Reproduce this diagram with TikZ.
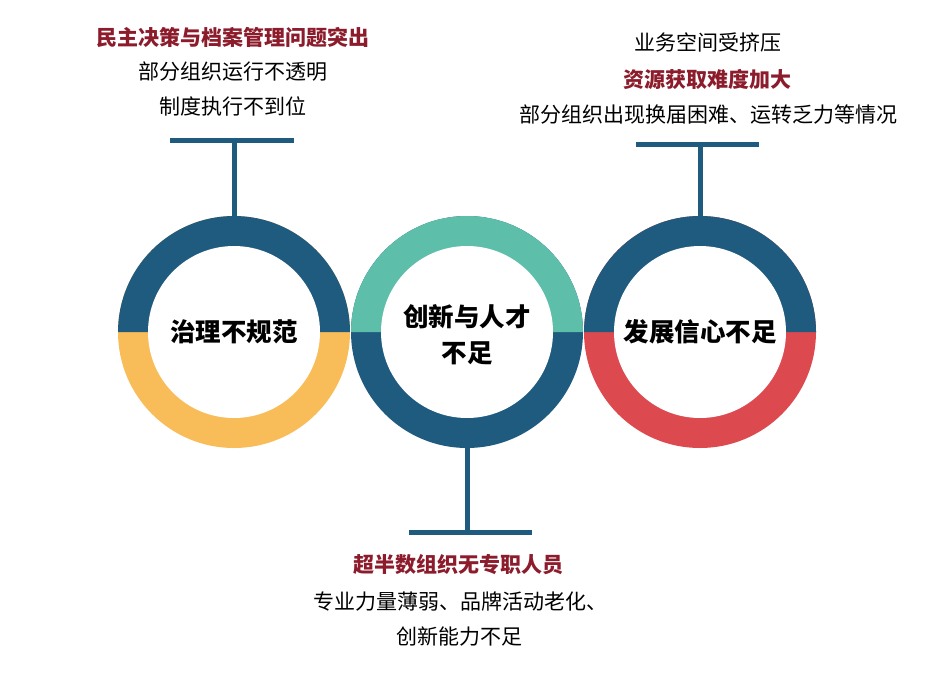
\documentclass[tikz,border=0pt]{standalone}
\usepackage{fontspec}
\setmainfont{Noto Sans CJK SC}
\usepackage{tikz}
\usetikzlibrary{positioning,calc}
\usepackage{xcolor}
\definecolor{ringblue}{HTML}{1F5B7F}
\definecolor{ringyellow}{HTML}{F8BD59}
\definecolor{ringteal}{HTML}{5DBEA9}
\definecolor{ringred}{HTML}{DC4A4F}
\definecolor{headred}{HTML}{8C1C2C}

\tikzset{
  ringlabel/.style={circle, minimum size=232pt, inner sep=0pt, align=center,
    font=\bfseries\fontsize{25.5}{36}\selectfont},
  head/.style={text=headred, font=\bfseries\fontsize{21}{24}\selectfont, inner sep=0pt},
  line/.style={text=black, font=\fontsize{21}{24}\selectfont, inner sep=0pt},
  stem/.style={draw=ringblue, line width=5pt}
}

\begin{document}
\begin{tikzpicture}[x=1pt,y=1pt]
  \useasboundingbox (0,0) rectangle (934,-680);
  % rings
  \fill[ringyellow] (234,-332) circle (116);
  \fill[ringblue] (234,-332) ++(116,0) arc[start angle=0,end angle=180,radius=116] -- cycle;
  \fill[white] (234,-332) circle (86);
  \fill[ringblue] (467,-332) circle (116);
  \fill[ringteal] (467,-332) ++(116,0) arc[start angle=0,end angle=180,radius=116] -- cycle;
  \fill[white] (467,-332) circle (86);
  \fill[ringred] (700,-332) circle (116);
  \fill[ringblue] (700,-332) ++(116,0) arc[start angle=0,end angle=180,radius=116] -- cycle;
  \fill[white] (700,-332) circle (86);
  \node[ringlabel] (gov) at (234,-332) {治理不规范};
  \node[ringlabel] (talent) at (467,-335) {创新与人才\\不足};
  \node[ringlabel] (faith) at (700,-332) {发展信心不足};
  % stems and bars
  \coordinate (govbar) at (234,-140);
  \coordinate (talentbar) at (467,-532);
  \coordinate (faithbar) at (700,-144);
  \draw[stem] ([yshift=-2pt]gov.north) -- (govbar);
  \draw[stem] ([xshift=-64pt]govbar) -- ([xshift=60pt]govbar);
  \draw[stem] ([yshift=6pt]talent.south) -- (talentbar);
  \draw[stem] ([xshift=-58pt]talentbar) -- ([xshift=65pt]talentbar);
  \draw[stem] ([yshift=-2pt]faith.north) -- (faithbar);
  \draw[stem] ([xshift=-64pt]faithbar) -- ([xshift=59pt]faithbar);
  % texts
  \node[head] (govhead) at (233,-37) {民主决策与档案管理问题突出};
  \node[line] (govone) at (233,-72) {部分组织运行不透明};
  \node[line] (govtwo) at (233,-106) {制度执行不到位};
  \node[line] (faithone) at (708,-42) {业务空间受挤压};
  \node[head] (faithhead) at (707,-79) {资源获取难度加大};
  \node[line] (faithtwo) at (708,-115) {部分组织出现换届困难、运转乏力等情况};
  \node[head] (talenthead) at (458,-565) {超半数组织无专职人员};
  \node[line] (talentone) at (460,-602) {专业力量薄弱、品牌活动老化、};
  \node[line] (talenttwo) at (459,-637) {创新能力不足};
\end{tikzpicture}
\end{document}
